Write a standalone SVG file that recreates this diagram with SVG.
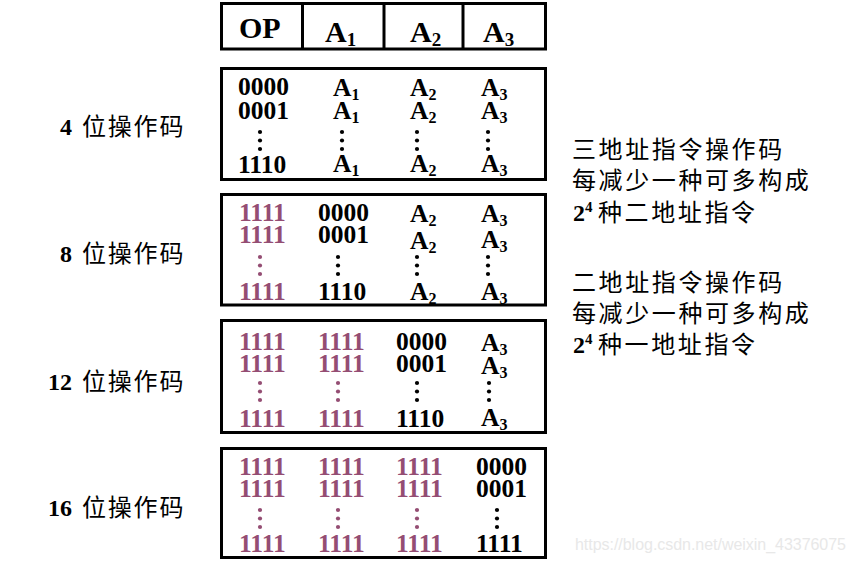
<svg xmlns="http://www.w3.org/2000/svg" width="856" height="562" viewBox="0 0 856 562">
<style>
.box{fill:#fff;stroke:#000;stroke-width:3}
.t{font-family:"Liberation Serif","Times New Roman",serif;font-weight:bold;font-size:25.5px;fill:#000}
.p{fill:#944d73}
.s{font-size:16px}
.h{font-size:30px}
.hs{font-size:19px}
.cjk{font-family:"Noto Sans CJK SC","Noto Sans",sans-serif;font-size:24px;fill:#000;letter-spacing:1.8px}
.n{letter-spacing:2.6px}
.d{fill:#000}
.dp{fill:#944d73}
.wm{font-family:"Liberation Sans",Arial,sans-serif;font-size:16px;fill:#e8e8e8}
</style>
<defs>
<g id="dots"><circle cx="0" cy="0" r="2.1"/><circle cx="0" cy="8.5" r="2.1"/><circle cx="0" cy="17" r="2.1"/></g>
</defs>
<rect width="856" height="562" fill="#fff"/>

<g id="header">
<rect class="box" x="221.5" y="3.5" width="324" height="45.5"/>
<line x1="302.5" y1="3.5" x2="302.5" y2="49" stroke="#000" stroke-width="3"/>
<line x1="384" y1="3.5" x2="384" y2="49" stroke="#000" stroke-width="3"/>
<line x1="463" y1="3.5" x2="463" y2="49" stroke="#000" stroke-width="3"/>
<text class="t h" x="239" y="38">OP</text>
<text class="t h" x="325" y="42">A<tspan class="hs" dy="4">1</tspan></text>
<text class="t h" x="410" y="42">A<tspan class="hs" dy="4">2</tspan></text>
<text class="t h" x="483" y="42">A<tspan class="hs" dy="4">3</tspan></text>
</g>

<g id="box4bit">
<rect class="box" x="221.5" y="68.5" width="324" height="111"/>
<text class="t" x="238" y="95">0000</text>
<text class="t" x="238" y="119">0001</text>
<use href="#dots" x="260" y="132" class="d"/>
<text class="t" x="238" y="173">1110</text>
<text class="t" x="333" y="96">A<tspan class="s" dy="4">1</tspan></text>
<text class="t" x="333" y="119">A<tspan class="s" dy="4">1</tspan></text>
<use href="#dots" x="342" y="132" class="d"/>
<text class="t" x="333" y="172">A<tspan class="s" dy="4">1</tspan></text>
<text class="t" x="410" y="96">A<tspan class="s" dy="4">2</tspan></text>
<text class="t" x="410" y="119">A<tspan class="s" dy="4">2</tspan></text>
<use href="#dots" x="417" y="132" class="d"/>
<text class="t" x="410" y="172">A<tspan class="s" dy="4">2</tspan></text>
<text class="t" x="481" y="96">A<tspan class="s" dy="4">3</tspan></text>
<text class="t" x="481" y="119">A<tspan class="s" dy="4">3</tspan></text>
<use href="#dots" x="488" y="132" class="d"/>
<text class="t" x="481" y="172">A<tspan class="s" dy="4">3</tspan></text>
</g>

<g id="box8bit">
<rect class="box" x="221.5" y="194.5" width="324" height="110.5"/>
<text class="t p" x="239" y="221">1111</text>
<text class="t p" x="239" y="243">1111</text>
<use href="#dots" x="260" y="257" class="dp"/>
<text class="t p" x="239" y="300">1111</text>
<text class="t" x="318" y="221">0000</text>
<text class="t" x="318" y="243">0001</text>
<use href="#dots" x="338" y="257" class="d"/>
<text class="t" x="318" y="300">1110</text>
<text class="t" x="410" y="222">A<tspan class="s" dy="4">2</tspan></text>
<text class="t" x="410" y="249">A<tspan class="s" dy="4">2</tspan></text>
<use href="#dots" x="417" y="257" class="d"/>
<text class="t" x="410" y="300">A<tspan class="s" dy="4">2</tspan></text>
<text class="t" x="481" y="222">A<tspan class="s" dy="4">3</tspan></text>
<text class="t" x="481" y="248">A<tspan class="s" dy="4">3</tspan></text>
<use href="#dots" x="488" y="257" class="d"/>
<text class="t" x="481" y="300">A<tspan class="s" dy="4">3</tspan></text>
</g>

<g id="box12bit">
<rect class="box" x="221.5" y="320.5" width="324" height="112"/>
<text class="t p" x="239" y="350">1111</text>
<text class="t p" x="239" y="372">1111</text>
<use href="#dots" x="260" y="383" class="dp"/>
<text class="t p" x="239" y="427">1111</text>
<text class="t p" x="318" y="350">1111</text>
<text class="t p" x="318" y="372">1111</text>
<use href="#dots" x="338" y="383" class="dp"/>
<text class="t p" x="318" y="427">1111</text>
<text class="t" x="396" y="350">0000</text>
<text class="t" x="396" y="372">0001</text>
<use href="#dots" x="417" y="383" class="d"/>
<text class="t" x="396" y="427">1110</text>
<text class="t" x="481" y="351">A<tspan class="s" dy="4">3</tspan></text>
<text class="t" x="481" y="374">A<tspan class="s" dy="4">3</tspan></text>
<use href="#dots" x="489" y="383" class="d"/>
<text class="t" x="481" y="426">A<tspan class="s" dy="4">3</tspan></text>
</g>

<g id="box16bit">
<rect class="box" x="221.5" y="448.5" width="324" height="109"/>
<text class="t p" x="239" y="475">1111</text>
<text class="t p" x="239" y="497">1111</text>
<use href="#dots" x="260" y="510" class="dp"/>
<text class="t p" x="239" y="552">1111</text>
<text class="t p" x="318" y="475">1111</text>
<text class="t p" x="318" y="497">1111</text>
<use href="#dots" x="338" y="510" class="dp"/>
<text class="t p" x="318" y="552">1111</text>
<text class="t p" x="396" y="475">1111</text>
<text class="t p" x="396" y="497">1111</text>
<use href="#dots" x="417" y="510" class="dp"/>
<text class="t p" x="396" y="552">1111</text>
<text class="t" x="476" y="475">0000</text>
<text class="t" x="476" y="497">0001</text>
<use href="#dots" x="497" y="510" class="d"/>
<text class="t" x="476" y="552">1111</text>
</g>

<g id="labels">
<text class="t" x="60" y="135" style="font-size:24px">4</text>
<text class="cjk" x="82" y="135">位操作码</text>
<text class="t" x="60" y="262" style="font-size:24px">8</text>
<text class="cjk" x="82" y="262">位操作码</text>
<text class="t" x="48" y="390" style="font-size:24px">12</text>
<text class="cjk" x="82" y="390">位操作码</text>
<text class="t" x="48" y="516" style="font-size:24px">16</text>
<text class="cjk" x="82" y="516">位操作码</text>
</g>

<g id="notes">
<text class="cjk n" x="572" y="158">三地址指令操作码</text>
<text class="cjk n" x="572" y="189">每减少一种可多构成</text>
<text class="t" x="573" y="221" style="font-size:24px">2<tspan style="font-size:15px" dy="-9">4</tspan></text>
<text class="cjk n" x="598" y="221">种二地址指令</text>
<text class="cjk n" x="572" y="291">二地址指令操作码</text>
<text class="cjk n" x="572" y="322">每减少一种可多构成</text>
<text class="t" x="573" y="353" style="font-size:24px">2<tspan style="font-size:15px" dy="-9">4</tspan></text>
<text class="cjk n" x="598" y="353">种一地址指令</text>
</g>

<g id="connectors"/>

<text class="wm" x="575" y="550" textLength="271">https://blog.csdn.net/weixin_43376075</text>
</svg>
